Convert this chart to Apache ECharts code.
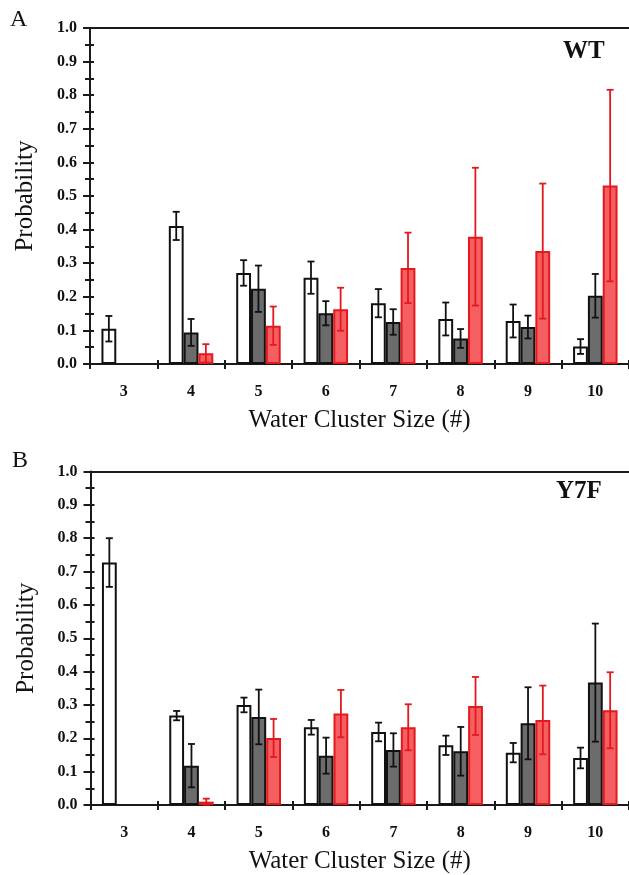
<!DOCTYPE html>
<html>
<head>
<meta charset="utf-8">
<script src="https://cdn.jsdelivr.net/npm/echarts@6/dist/echarts.min.js"></script>
<style>
html,body{margin:0;padding:0;background:#fff;}
#chart{width:629px;height:875px;}
</style>
</head>
<body>
<div id="chart"></div>
<script>
// ---- data ----
const categories = ['3','4','5','6','7','8','9','10'];
const yTicks = [0,0.1,0.2,0.3,0.4,0.5,0.6,0.7,0.8,0.9,1.0];

// Panel A (WT)
const wtWhite    = [0.105, 0.411, 0.271, 0.257, 0.181, 0.134, 0.128, 0.052];
const wtWhiteErr = [0.038, 0.042, 0.038, 0.048, 0.042, 0.049, 0.049, 0.022];
const wtGray     = [null, 0.094, 0.224, 0.151, 0.125, 0.076, 0.110, 0.203];
const wtGrayErr  = [null, 0.040, 0.069, 0.036, 0.038, 0.028, 0.034, 0.065];
const wtRed      = [null, 0.032, 0.114, 0.163, 0.286, 0.379, 0.336, 0.531];
const wtRedErr   = [null, 0.027, 0.057, 0.064, 0.105, 0.205, 0.201, 0.285];

// Panel B (Y7F)
const y7fWhite    = [0.727, 0.268, 0.300, 0.233, 0.219, 0.179, 0.157, 0.141];
const y7fWhiteErr = [0.073, 0.014, 0.022, 0.022, 0.028, 0.029, 0.029, 0.031];
const y7fGray     = [null, 0.118, 0.264, 0.148, 0.165, 0.161, 0.245, 0.367];
const y7fGrayErr  = [null, 0.065, 0.082, 0.054, 0.050, 0.073, 0.108, 0.177];
const y7fRed      = [null, 0.010, 0.201, 0.274, 0.233, 0.297, 0.255, 0.284];
const y7fRedErr   = [null, 0.009, 0.057, 0.071, 0.069, 0.087, 0.103, 0.114];

// ---- styles ----
const SERIF = '"Liberation Serif","Times New Roman",serif';
const AX = '#1a1a1a';
const BAR_FRAC = 0.22;
const styles = [
  {fill:'#ffffff', border:'#111111', err:'#111111'},
  {fill:'#6c6c6c', border:'#111111', err:'#111111'},
  {fill:'#f65f61', border:'#e3191e', err:'#e3191e'}
];

function mainX(g){
  return {
    gridIndex:g, type:'category', data:categories, position:'bottom',
    axisLine:{show:true, onZero:false, lineStyle:{color:AX, width:2}},
    axisTick:{show:true, length:5, lineStyle:{color:AX, width:2}},
    axisLabel:{fontFamily:SERIF, fontWeight:'bold', fontSize:16, color:'#111', margin:20},
    splitLine:{show:false},
    name:'Water Cluster Size (#)', nameLocation:'middle', nameGap:44,
    nameTextStyle:{fontFamily:SERIF, fontSize:25, color:'#111'}
  };
}
function innerX(g){
  return {
    gridIndex:g, type:'category', data:categories, position:'bottom',
    axisLine:{show:false, onZero:false},
    axisTick:{show:true, inside:true, length:4, lineStyle:{color:AX, width:2}},
    axisLabel:{show:false}, splitLine:{show:false}
  };
}
function topX(g){
  return {
    gridIndex:g, type:'category', data:categories, position:'top',
    axisLine:{show:true, onZero:false, lineStyle:{color:AX, width:2}},
    axisTick:{show:false}, axisLabel:{show:false}, splitLine:{show:false}
  };
}
function mainY(g){
  return {
    gridIndex:g, type:'value', min:0, max:1, interval:0.1, position:'left',
    axisLine:{show:true, lineStyle:{color:AX, width:2}},
    axisTick:{show:true, length:7, lineStyle:{color:AX, width:2}},
    minorTick:{show:true, splitNumber:2, length:5, lineStyle:{color:AX, width:2}},
    splitLine:{show:false},
    axisLabel:{fontFamily:SERIF, fontWeight:'bold', fontSize:16, color:'#111', margin:13,
      formatter:v => yTicks.some(t => Math.abs(t - v) < 1e-9) ? v.toFixed(1) : ''},
    name:'Probability', nameLocation:'middle', nameGap:52, nameRotate:90,
    nameTextStyle:{fontFamily:SERIF, fontSize:25, color:'#111'}
  };
}
function innerY(g){
  return {
    gridIndex:g, type:'value', min:0, max:1, interval:0.1, position:'left',
    axisLine:{show:false},
    axisTick:{show:true, inside:true, length:4, lineStyle:{color:AX, width:2}},
    minorTick:{show:true, splitNumber:2, length:4, lineStyle:{color:AX, width:2}},
    splitLine:{show:false}, axisLabel:{show:false}
  };
}

function barSeries(vals, k, xi, yi){
  return {
    type:'bar', xAxisIndex:xi, yAxisIndex:yi,
    data: vals.map(v => v == null ? '-' : v),
    barWidth:(BAR_FRAC*100)+'%', barGap:'0%',
    itemStyle:{color:styles[k].fill, borderColor:styles[k].border, borderWidth:2},
    emphasis:{disabled:true}, silent:true, z:2
  };
}
function errSeries(vals, errs, k, xi, yi){
  const data = [];
  vals.forEach((v,i) => { if (v != null && errs[i] != null) data.push([i, v, errs[i]]); });
  return {
    type:'custom', xAxisIndex:xi, yAxisIndex:yi, coordinateSystem:'cartesian2d',
    data, encode:{x:0, y:1}, silent:true, z:5, clip:false,
    renderItem:function(params, api){
      const i = api.value(0), v = api.value(1), e = api.value(2);
      const band = api.size([1,0])[0];
      const off = (k - 1) * band * BAR_FRAC;
      const hi = api.coord([i, v + e]);
      const lo = api.coord([i, Math.max(0, v - e)]);
      const x = hi[0] + off;
      const cw = 3.5;
      const st = {stroke:styles[k].err, lineWidth:1.8, fill:null};
      return {type:'group', children:[
        {type:'line', shape:{x1:x, y1:hi[1], x2:x, y2:lo[1]}, style:st},
        {type:'line', shape:{x1:x-cw, y1:hi[1], x2:x+cw, y2:hi[1]}, style:st},
        {type:'line', shape:{x1:x-cw, y1:lo[1], x2:x+cw, y2:lo[1]}, style:st}
      ]};
    }
  };
}

const panels = [
  {vals:[wtWhite, wtGray, wtRed], errs:[wtWhiteErr, wtGrayErr, wtRedErr]},
  {vals:[y7fWhite, y7fGray, y7fRed], errs:[y7fWhiteErr, y7fGrayErr, y7fRedErr]}
];

const series = [];
panels.forEach((p, g) => {
  const xi = g*3, yi = g*2;
  for (let k = 0; k < 3; k++) series.push(barSeries(p.vals[k], k, xi, yi));
  for (let k = 0; k < 3; k++) series.push(errSeries(p.vals[k], p.errs[k], k, xi, yi));
});

const option = {
  animation:false,
  backgroundColor:'#ffffff',
  grid:[
    {left:90, top:28, right:0, height:336},
    {left:90.5, top:471.5, right:0, height:336}
  ],
  xAxis:[mainX(0), innerX(0), topX(0), mainX(1), innerX(1), topX(1)],
  yAxis:[mainY(0), innerY(0), mainY(1), innerY(1)],
  graphic:[
    {type:'text', left:10, top:8, style:{text:'A', font:'24px '+SERIF, fill:'#111'}},
    {type:'text', left:12, top:449, style:{text:'B', font:'24px '+SERIF, fill:'#111'}},
    {type:'text', left:563, top:39, style:{text:'WT', font:'bold 25px '+SERIF, fill:'#111'}},
    {type:'text', left:556, top:479, style:{text:'Y7F', font:'bold 25px '+SERIF, fill:'#111'}}
  ],
  series
};

const chart = echarts.init(document.getElementById('chart'), null, {renderer:'canvas'});
chart.setOption(option);
</script>
</body>
</html>
